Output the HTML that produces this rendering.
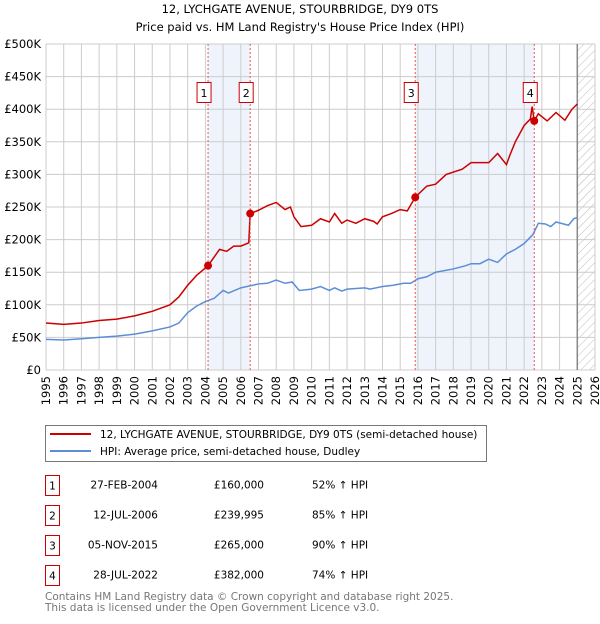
<!DOCTYPE html>
<html><head><meta charset="utf-8"><style>
body{margin:0;background:#fff;font-family:"DejaVu Sans","Liberation Sans",sans-serif;}
svg text{font-family:"DejaVu Sans","Liberation Sans",sans-serif;}
</style></head><body>
<svg id="chart" width="600" height="620" xmlns="http://www.w3.org/2000/svg">
<text x="300" y="13" text-anchor="middle" font-size="11.5">12, LYCHGATE AVENUE, STOURBRIDGE, DY9 0TS</text>
<text x="300" y="31" text-anchor="middle" font-size="11.5">Price paid vs. HM Land Registry's House Price Index (HPI)</text>
<defs><pattern id="hatch" width="6" height="6" patternUnits="userSpaceOnUse" patternTransform="rotate(45)"><line x1="0" y1="0" x2="0" y2="6" stroke="#bbb" stroke-width="1"/></pattern></defs>
<g id="bands"></g><g id="grid"></g><g id="axes"></g><g id="series"></g><g id="markers"></g>
<g>
<rect x="45.5" y="425.5" width="441" height="36" fill="#fff" stroke="#777"/>
<line x1="50" y1="434" x2="91" y2="434" stroke="#cc0000" stroke-width="2"/>
<text x="100" y="438" font-size="10.5">12, LYCHGATE AVENUE, STOURBRIDGE, DY9 0TS (semi-detached house)</text>
<line x1="50" y1="451" x2="91" y2="451" stroke="#5b8ed6" stroke-width="2"/>
<text x="100" y="455" font-size="10.5">HPI: Average price, semi-detached house, Dudley</text>
</g>
<g id="table" font-size="10.5"></g>
<text x="45" y="600" font-size="10.5" fill="#777">Contains HM Land Registry data © Crown copyright and database right 2025.</text>
<text x="45" y="611" font-size="10.5" fill="#777">This data is licensed under the Open Government Licence v3.0.</text>
</svg>
<script>
const redYears=[1995,1996,1997,1998,1999,2000,2001,2002,2002.5,2003,2003.5,2004.15,2004.8,2005.2,2005.6,2006,2006.45,2006.53,2007,2007.5,2008,2008.5,2008.8,2009,2009.4,2010,2010.5,2011,2011.3,2011.7,2012,2012.5,2013,2013.5,2013.7,2014,2014.5,2015,2015.4,2015.85,2016.5,2017,2017.6,2018.5,2019,2020,2020.5,2021,2021.2,2021.5,2022,2022.35,2022.45,2022.57,2022.8,2023.3,2023.8,2024.3,2024.7,2025];
const redVals=[72,70,72,76,78,83,90,100,112,130,145,160,185,182,190,190,195,240,245,252,257,246,250,235,220,222,232,227,240,225,230,225,232,228,224,235,240,246,244,265,282,285,300,308,318,318,332,315,330,350,375,385,404,382,393,382,395,383,400,408];
const hpiYears=[1995,1996,1997,1998,1999,2000,2001,2002,2002.5,2003,2003.5,2004,2004.5,2005,2005.3,2006,2007,2007.5,2008,2008.5,2008.9,2009.3,2010,2010.5,2011,2011.3,2011.7,2012,2013,2013.3,2014,2014.6,2015.2,2015.6,2016,2016.5,2017,2018,2018.7,2019,2019.5,2020,2020.5,2021,2021.5,2022,2022.5,2022.8,2023.2,2023.5,2023.8,2024.5,2024.8,2025];
const hpiVals=[47,46,48,50,52,55,60,66,72,88,98,105,110,122,118,126,132,133,138,133,135,122,124,128,122,126,121,124,126,124,128,130,133,133,140,143,150,155,160,163,163,170,165,178,185,194,208,225,224,220,227,222,232,234];
const saleYears=[2004.15,2006.53,2015.85,2022.57];
const saleVals=[160,239.995,265,382];
const saleLabels=["1","2","3","4"];
const saleDates=["27-FEB-2004","12-JUL-2006","05-NOV-2015","28-JUL-2022"];
const salePrices=["£160,000","£239,995","£265,000","£382,000"];
const saleHpi=["52% ↑ HPI","85% ↑ HPI","90% ↑ HPI","74% ↑ HPI"];
const yTicks=[0,50,100,150,200,250,300,350,400,450,500];
const yTickLabels=["£0","£50K","£100K","£150K","£200K","£250K","£300K","£350K","£400K","£450K","£500K"];
const xTicks=[1995,1996,1997,1998,1999,2000,2001,2002,2003,2004,2005,2006,2007,2008,2009,2010,2011,2012,2013,2014,2015,2016,2017,2018,2019,2020,2021,2022,2023,2024,2025,2026];
const X0=46,X1=595,Y0=370,Y1=44;
const x=y=>X0+(y-1995)/31*(X1-X0);
const yS=v=>Y0-v/500*(Y0-Y1);
const NS="http://www.w3.org/2000/svg";
function mk(tag,attrs,parent,txt){const e=document.createElementNS(NS,tag);for(const k in attrs)e.setAttribute(k,attrs[k]);if(txt!==undefined)e.textContent=txt;document.getElementById(parent).appendChild(e);return e;}
let b;
b=mk('rect',{x:x(saleYears[0]),y:Y1,width:x(saleYears[1])-x(saleYears[0]),height:Y0-Y1,fill:'#eef3fc'},'bands');


b=mk('rect',{x:x(saleYears[2]),y:Y1,width:x(saleYears[3])-x(saleYears[2]),height:Y0-Y1,fill:'#eef3fc'},'bands');


b=mk('rect',{x:x(2025),y:Y1,width:X1-x(2025),height:Y0-Y1,fill:'url(#hatch)'},'bands');


yTicks.forEach((t,i)=>{
 const l=mk('line',{x1:X0,x2:X1,y1:yS(t),y2:yS(t),stroke:'#ccc'},'grid');
 
 
 const tx=mk('text',{x:X0-5,y:yS(t)+4,'text-anchor':'end','font-size':'11.5'},'axes',yTickLabels[i]);
 
 
});
xTicks.forEach(t=>{
 const l=mk('line',{x1:x(t),x2:x(t),y1:Y1,y2:Y0,stroke:'#ccc'},'grid');
 
 
 const tx=mk('text',{x:0,y:0,'text-anchor':'end','font-size':'11.5',transform:`translate(${x(t)+4},${Y0+6}) rotate(-90)`},'axes',String(t));
 
 
});
const vl=mk('line',{x1:x(2025),x2:x(2025),y1:Y1,y2:Y0,stroke:'#888','stroke-width':1.5},'grid');


const hp=mk('polyline',{points:hpiYears.map((t,i)=>x(t)+','+yS(hpiVals[i])).join(' '),fill:'none',stroke:'#5b8ed6','stroke-width':1.5},'series');


const rp=mk('polyline',{points:redYears.map((t,i)=>x(t)+','+yS(redVals[i])).join(' '),fill:'none',stroke:'#cc0000','stroke-width':1.5},'series');


saleYears.forEach((t,i)=>{
 const l=mk('line',{x1:x(t),x2:x(t),y1:Y1,y2:Y0,stroke:'#ee5555','stroke-dasharray':'2,2'},'markers');
 
 
 const c=mk('circle',{cx:x(t),cy:yS(saleVals[i]),r:4,fill:'#cc0000'},'markers');
 
 
 const r=mk('rect',{x:x(t)-11,y:82.5,width:14,height:20,fill:'#fff',stroke:'#cc0000'},'markers');
 
 
 const tx=mk('text',{x:x(t)-4,y:97,'text-anchor':'middle','font-size':'11'},'markers',saleLabels[i]);
 
 
 const ry=475.5+i*30;
 const tb=mk('rect',{x:45.5,y:ry,width:14,height:20,fill:'none',stroke:'#cc0000'},'table');
 
 
 const tn=mk('text',{x:52.5,y:ry+14,'text-anchor':'middle'},'table',saleLabels[i]);
 
 
 const td=mk('text',{x:158,y:ry+13,'text-anchor':'end'},'table',saleDates[i]);
 
 
 const tp=mk('text',{x:264,y:ry+13,'text-anchor':'end'},'table',salePrices[i]);
 
 
 const th=mk('text',{x:312,y:ry+13},'table',saleHpi[i]);
 
 
});
</script>
</body></html>
